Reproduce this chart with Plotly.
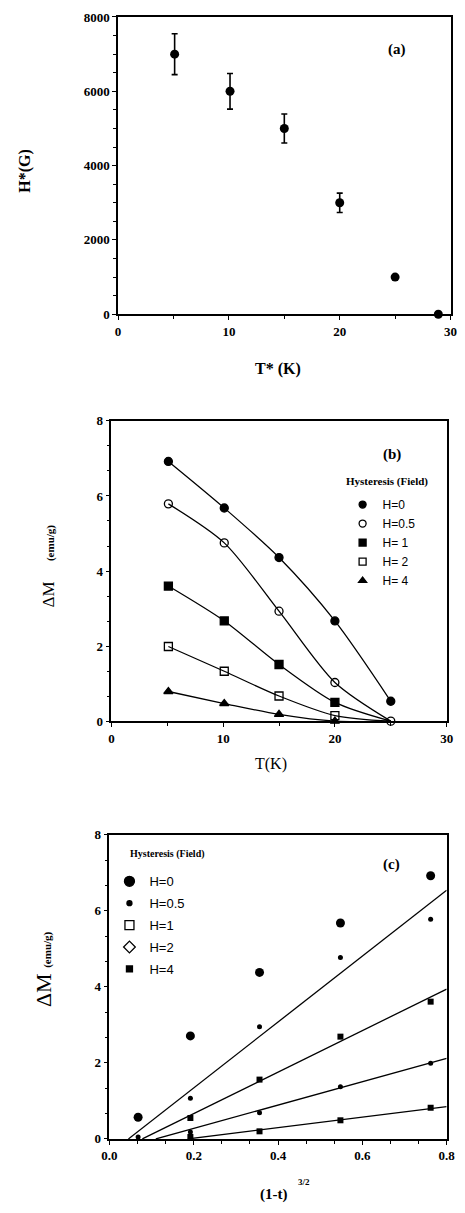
import plotly.graph_objects as go

W, H = 465, 1213
PAGE_OFFSET = 8  # default body margin of the written html page

# ---------------- Data ----------------
# Panel (a)
a_T = [5.1, 10.1, 15.0, 20.0, 25.0, 28.9]
a_H = [7000, 6000, 5000, 3000, 1000, 0]
a_err = [550, 480, 390, 260, 60, 0]

# Panel (b)
b_T = [5.1, 10.1, 15.0, 20.0, 25.0]
b_H0 = [6.92, 5.68, 4.36, 2.67, 0.53]
b_H05 = [5.79, 4.75, 2.93, 1.03, 0.0]
b_H1 = [3.60, 2.67, 1.51, 0.50, 0.0]
b_H2 = [1.99, 1.33, 0.67, 0.15, 0.0]
b_H4 = [0.79, 0.47, 0.18, 0.0, 0.0]
b_labels = ["H=0", "H=0.5", "H= 1", "H= 2", "H= 4"]

# Panel (c)
c_x = [0.068, 0.192, 0.356, 0.548, 0.762]
c_H0 = [0.57, 2.71, 4.38, 5.68, 6.92]
c_H05 = [0.05, 1.07, 2.95, 4.77, 5.78]
c_x_late = [0.192, 0.356, 0.548, 0.762]
c_H1 = [0.55, 1.56, 2.69, 3.61]
c_H2 = [0.18, 0.69, 1.37, 1.99]
c_H4 = [0.05, 0.20, 0.49, 0.82]
c_labels = ["H=0", "H=0.5", "H=1", "H=2", "H=4"]
# straight-line fits: x-intercept and value at right edge (x = 0.8)
fit_x_start = [0.045, 0.078, 0.11, 0.186]
fit_x_end = [0.8, 0.8, 0.8, 0.8]
fit_y_end = [6.54, 3.94, 2.12, 0.85]

# ---------------- Styles ----------------
SERIF = "Liberation Serif"
SANS = "Liberation Sans"
BLACK = "black"

def px_x(p):
    return (p - PAGE_OFFSET) / W

def px_y(p):
    return 1 - (p - PAGE_OFFSET) / H

fig = go.Figure()

# Panel (a)
fig.add_trace(go.Scatter(
    x=a_T, y=a_H, mode="markers", xaxis="x", yaxis="y",
    marker=dict(symbol="circle", size=9, color=BLACK, opacity=1),
    error_y=dict(type="data", array=a_err, visible=True, color=BLACK,
                 thickness=1.6, width=3),
    showlegend=False, cliponaxis=False))

# Panel (b)
b_series = [b_H0, b_H05, b_H1, b_H2, b_H4]
b_symbols = ["circle", "circle-open", "square", "square-open", "triangle-up"]
b_sizes = [[8, 8, 8, 8, 8], [8, 8, 8, 8, 8], [8, 8, 8, 8, 0], [8, 8, 8, 8, 0], [8, 8, 8, 8, 0]]
for ys, sym, sz in zip(b_series, b_symbols, b_sizes):
    fig.add_trace(go.Scatter(
        x=b_T, y=ys, mode="lines+markers", xaxis="x2", yaxis="y2",
        line=dict(color=BLACK, width=1.3, shape="spline", smoothing=0.8),
        marker=dict(symbol=sym, size=sz, color=BLACK, opacity=1,
                    line=dict(color=BLACK, width=1.3)),
        showlegend=False, cliponaxis=False))
for lab, sym in zip(b_labels, b_symbols):
    fig.add_trace(go.Scatter(
        x=[None], y=[None], mode="markers", xaxis="x2", yaxis="y2",
        name=lab, legend="legend",
        marker=dict(symbol=sym, size=7, color=BLACK, opacity=1,
                    line=dict(color=BLACK, width=1.3)),
        showlegend=True))

# Panel (c) fit lines
for xs, xe, ye in zip(fit_x_start, fit_x_end, fit_y_end):
    fig.add_trace(go.Scatter(
        x=[xs, xe], y=[0, ye], mode="lines", xaxis="x3", yaxis="y3",
        line=dict(color=BLACK, width=1.3), showlegend=False, cliponaxis=False))

# Panel (c) points
fig.add_trace(go.Scatter(x=c_x, y=c_H0, mode="markers", xaxis="x3", yaxis="y3",
                         marker=dict(symbol="circle", size=9, color=BLACK),
                         showlegend=False, cliponaxis=False))
fig.add_trace(go.Scatter(x=c_x, y=c_H05, mode="markers", xaxis="x3", yaxis="y3",
                         marker=dict(symbol="circle", size=5, color=BLACK),
                         showlegend=False, cliponaxis=False))
fig.add_trace(go.Scatter(x=c_x_late, y=c_H1, mode="markers", xaxis="x3", yaxis="y3",
                         marker=dict(symbol="square", size=6, color=BLACK),
                         showlegend=False, cliponaxis=False))
fig.add_trace(go.Scatter(x=c_x_late, y=c_H2, mode="markers", xaxis="x3", yaxis="y3",
                         marker=dict(symbol="circle", size=5, color=BLACK),
                         showlegend=False, cliponaxis=False))
fig.add_trace(go.Scatter(x=c_x_late, y=c_H4, mode="markers", xaxis="x3", yaxis="y3",
                         marker=dict(symbol="square", size=6, color=BLACK),
                         showlegend=False, cliponaxis=False))

c_leg_symbols = ["circle", "circle", "square-open", "diamond-open", "square"]
c_leg_sizes = [10, 5, 9, 9, 6]
for i, (lab, sym, sz) in enumerate(zip(c_labels, c_leg_symbols, c_leg_sizes)):
    fig.add_trace(go.Scatter(
        x=[None], y=[None], mode="markers", xaxis="x3", yaxis="y3",
        name=lab, legend="legend2", legendgroup="g%d" % i,
        marker=dict(symbol=sym, size=sz, color=BLACK,
                    line=dict(color=BLACK, width=1.3)),
        showlegend=True))

tickfont = dict(family=SERIF, size=13, color=BLACK, weight="bold")

def xax(domain, anchor, rng, dtick, minor, fmt=None):
    d = dict(domain=domain, anchor=anchor, range=rng, dtick=dtick, tick0=0,
             ticks="outside", ticklen=4, tickwidth=1.3, tickcolor=BLACK,
             minor=dict(dtick=minor, ticks="outside", ticklen=3, tickwidth=1, tickcolor=BLACK),
             showline=True, linecolor=BLACK, linewidth=1.5, mirror=True,
             showgrid=False, zeroline=False, tickfont=tickfont, fixedrange=True)
    if fmt:
        d["tickformat"] = fmt
    return d

layout = dict(
    width=W, height=H,
    margin=dict(l=0, r=0, t=0, b=0),
    paper_bgcolor="white", plot_bgcolor="white",
    xaxis=xax([px_x(114), px_x(459)], "y", [0, 30], 10, 5),
    yaxis=xax([px_y(311), px_y(10)], "x", [0, 8000], 2000, 500),
    xaxis2=xax([px_x(107), px_x(455)], "y2", [0, 30], 10, 5),
    yaxis2=xax([px_y(723), px_y(419)], "x2", [0, 8], 2, 2 / 3),
    xaxis3=xax([px_x(105), px_x(455)], "y3", [0, 0.8], 0.2, 0.2 / 3, ".1f"),
    yaxis3=xax([px_y(1146), px_y(838)], "x3", [0, 8], 2, 2 / 3),
    legend=dict(x=px_x(347), y=px_y(489), xanchor="left", yanchor="top",
                bgcolor="rgba(0,0,0,0)", borderwidth=0,
                font=dict(family=SANS, size=12, color=BLACK)),
    legend2=dict(x=px_x(105), y=px_y(870), xanchor="left", yanchor="top",
                 bgcolor="rgba(0,0,0,0)", borderwidth=0, traceorder="grouped",
                 tracegroupgap=2,
                 font=dict(family=SANS, size=13, color=BLACK)),
)
fig.update_layout(**layout)

def ann(text, x, y, size, bold=True, angle=0, family=SERIF):
    fig.add_annotation(text=text, x=px_x(x), y=px_y(y), xref="paper", yref="paper",
                       showarrow=False, textangle=angle,
                       font=dict(family=family, size=size, color=BLACK,
                                 weight="bold" if bold else "normal"),
                       xanchor="center", yanchor="middle")

# Panel (a) texts
ann("(a)", 403, 43, 15)
ann("H*(G)", 17, 166, 16, angle=-90)
ann("T* (K)", 280, 366, 16)
# Panel (b) texts
ann("(b)", 398, 453, 15)
ann("Hysteresis (Field)", 393, 480, 11)
ann("ΔM", 42, 595, 17, bold=False, angle=-90)
ann("(emu/g)", 44, 543, 11, angle=-90)
ann("T(K)", 273, 766, 16, bold=False)
# Panel (c) texts
ann("(c)", 398, 868, 15)
ann("Hysteresis (Field)", 165, 858, 10)
ann("ΔM <span style='font-size:11px;font-weight:bold'>(emu/g)</span>",
    36, 974, 22, bold=False, angle=-90)
ann("(1-t)", 275, 1202, 15)
ann("3/2", 307, 1190, 9)

fig.write_html("out.html")
